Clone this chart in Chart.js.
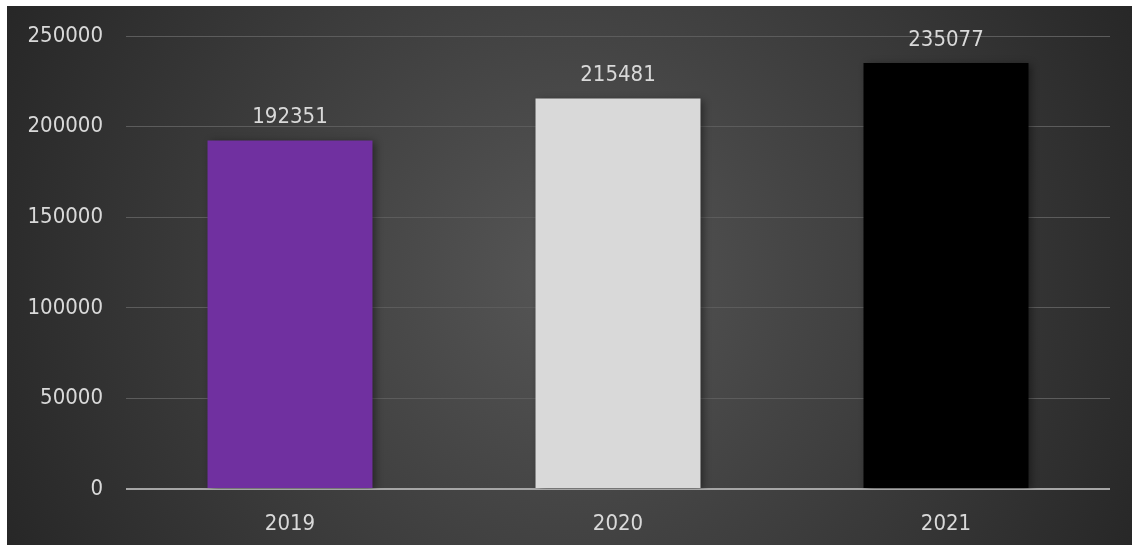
<!DOCTYPE html>
<html lang="en">
<head>
    <meta charset="UTF-8">
    <title>Jaaroverzicht</title>
    <script src="https://cdn.jsdelivr.net/npm/chart.js"></script>
    <style>
        body { margin: 0; background: #ffffff; }
        /* dark chart panel, small white edge on top and left */
        #wrap {
            position: absolute;
            left: 7px;
            top: 6px;
            width: 1125px;
            height: 539px;
        }
    </style>
</head>
<body>
    <div id="wrap"><canvas id="yearChart"></canvas></div>

    <script>
        const years = ['2019', '2020', '2021'];
        const totals = [192351, 215481, 235077];
        const barColors = ['#7030A0', '#D9D9D9', '#000000'];
        const yTicks = [0, 50000, 100000, 150000, 200000, 250000];

        const font = { family: "'DejaVu Sans Condensed', 'DejaVu Sans', sans-serif", size: 22 };
        const textColor = '#d9d9d9';

        // radial gradient background for the whole panel
        const panelBackground = {
            id: 'panelBackground',
            beforeDraw(chart) {
                const ctx = chart.ctx;
                const w = chart.width, h = chart.height;
                const g = ctx.createRadialGradient(565, 270, 0, 565, 270, 640);
                g.addColorStop(0, '#565656');
                g.addColorStop(1, '#262626');
                ctx.save();
                ctx.fillStyle = g;
                ctx.fillRect(0, 0, w, h);
                ctx.restore();
            }
        };

        // soft shadow under the bars
        const barShadow = {
            id: 'barShadow',
            beforeDatasetsDraw(chart) {
                const ctx = chart.ctx;
                ctx.save();
                ctx.shadowColor = 'rgba(0, 0, 0, 0.45)';
                ctx.shadowBlur = 8;
                ctx.shadowOffsetX = 3;
                ctx.shadowOffsetY = 2;
            },
            afterDatasetsDraw(chart) {
                chart.ctx.restore();
            }
        };

        // value labels above each bar
        const valueLabels = {
            id: 'valueLabels',
            afterDatasetsDraw(chart) {
                const ctx = chart.ctx;
                const meta = chart.getDatasetMeta(0);
                ctx.save();
                ctx.font = font.size + 'px ' + font.family;
                ctx.fillStyle = textColor;
                ctx.textAlign = 'center';
                ctx.textBaseline = 'middle';
                meta.data.forEach((bar, i) => {
                    ctx.fillText(String(totals[i]), bar.x, bar.y - 23);
                });
                ctx.restore();
            }
        };

        const yearChart = new Chart(document.getElementById('yearChart').getContext('2d'), {
            type: 'bar',
            data: {
                labels: years,
                datasets: [{
                    data: totals,
                    backgroundColor: barColors,
                    borderWidth: 0,
                    categoryPercentage: 1,
                    barPercentage: 0.503
                }]
            },
            options: {
                responsive: true,
                maintainAspectRatio: false,
                animation: false,
                layout: { padding: { top: 30, right: 22, bottom: 0, left: 0 } },
                plugins: { legend: { display: false }, tooltip: { enabled: false } },
                scales: {
                    x: {
                        grid: { display: false },
                        border: { display: false },
                        ticks: { color: textColor, font: font, padding: 14 },
                        afterFit(scale) { scale.height = 56; }
                    },
                    y: {
                        min: 0,
                        max: 250000,
                        afterBuildTicks(scale) { scale.ticks = yTicks.map(v => ({ value: v })); },
                        grid: {
                            drawTicks: false,
                            color: ctx => ctx.tick && ctx.tick.value === 0 ? '#a6a6a6' : '#5c5c5c',
                            lineWidth: ctx => ctx.tick && ctx.tick.value === 0 ? 2 : 1
                        },
                        border: { display: false },
                        ticks: { color: textColor, font: font, padding: 23, callback: v => String(v) },
                        afterFit(scale) {
                            scale.width = 119;
                            scale.paddingTop = 0;
                            scale.paddingBottom = 0;
                        }
                    }
                }
            },
            plugins: [panelBackground, barShadow, valueLabels]
        });
    </script>
</body>
</html>
